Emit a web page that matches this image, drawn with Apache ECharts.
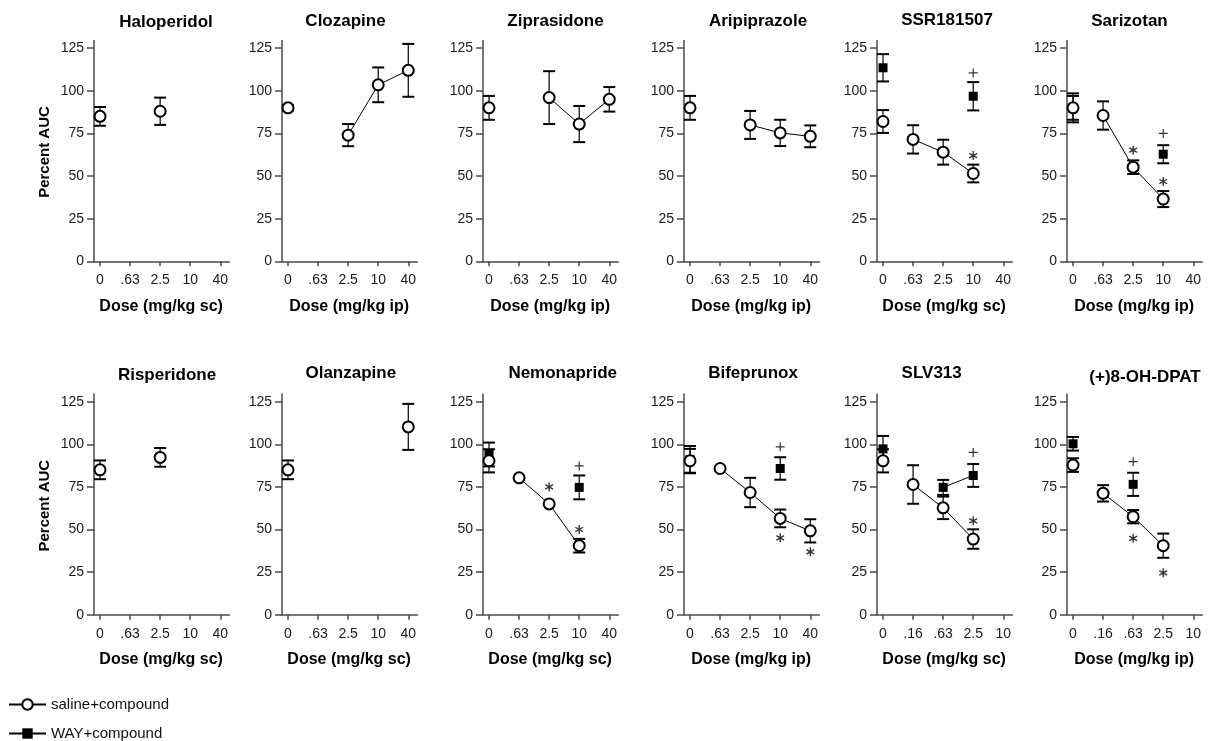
<!DOCTYPE html>
<html><head><meta charset="utf-8">
<script src="https://cdn.jsdelivr.net/npm/echarts@6.0.0/dist/echarts.min.js"></script>
<style>html,body{margin:0;padding:0;background:#fff}#c{width:1211px;height:741px}</style>
</head><body><div id="c"></div>
<script>
// ---------------- DATA ----------------
const dosesA = ['0', '.63', '2.5', '10', '40'];
const dosesB = ['0', '.16', '.63', '2.5', '10'];
const yTickValues = [0, 25, 50, 75, 100, 125];
const panelTitles = ['Haloperidol', 'Clozapine', 'Ziprasidone', 'Aripiprazole', 'SSR181507', 'Sarizotan',
                     'Risperidone', 'Olanzapine', 'Nemonapride', 'Bifeprunox', 'SLV313', '(+)8-OH-DPAT'];
const panelRoutes = ['sc', 'ip', 'ip', 'ip', 'sc', 'ip', 'sc', 'sc', 'sc', 'ip', 'sc', 'ip'];
const seriesNames = ['saline+compound', 'WAY+compound'];
const yAxisTitle = 'Percent AUC';

const haloperidolSaline    = [85, null, 88, null, null];
const haloperidolSalineSem = [5.5, null, 8, null, null];

const clozapineSaline    = [90, null, 74, 103.5, 112];
const clozapineSalineSem = [1.5, null, 6.5, 10.2, 15.5];

const ziprasidoneSaline    = [90, null, 96, 80.5, 95];
const ziprasidoneSalineSem = [7, null, 15.5, 10.6, 7.2];

const aripiprazoleSaline    = [90, null, 80, 75.3, 73.3];
const aripiprazoleSalineSem = [7, null, 8.2, 7.7, 6.4];

const ssrSaline    = [82, 71.5, 64, 51.5, null];
const ssrSalineSem = [6.7, 8.3, 7.3, 5.2, null];
const ssrWay       = [113.5, null, null, 96.8, null];
const ssrWaySem    = [8, null, null, 8.3, null];
const ssrStars     = [[3, 62]];
const ssrPlus      = [[3, 110.5]];

const sarizotanSaline    = [90, 85.5, 55.2, 36.5, null];
const sarizotanSalineSem = [8.5, 8.3, 4, 4.7, null];
const sarizotanWay       = [90, null, null, 62.8, null];
const sarizotanWaySem    = [7, null, null, 5.3, null];
const sarizotanStars     = [[2, 65.2], [3, 46.8]];
const sarizotanPlus      = [[3, 75]];

const risperidoneSaline    = [85, null, 92.3, null, null];
const risperidoneSalineSem = [5.5, null, 5.5, null, null];

const olanzapineSaline    = [85, null, null, null, 110.2];
const olanzapineSalineSem = [5.5, null, null, null, 13.5];

const nemonaprideSaline    = [90.3, 80.3, 65, 40.5, null];
const nemonaprideSalineSem = [6.8, null, null, 4, null];
const nemonaprideWay       = [94, null, null, 74.7, null];
const nemonaprideWaySem    = [7, null, null, 7, null];
const nemonaprideStars     = [[2, 75], [3, 50]];
const nemonapridePlus      = [[3, 87.3]];

const bifeprunoxSaline    = [90.3, 85.8, 71.7, 56.5, 49.2];
const bifeprunoxSalineSem = [7, null, 8.6, 5.2, 6.8];
const bifeprunoxWay       = [91, null, null, 85.8, null];
const bifeprunoxWaySem    = [8, null, null, 6.6, null];
const bifeprunoxStars     = [[3, 45.1], [4, 36.9]];
const bifeprunoxPlus      = [[3, 98.5]];

const slvSaline    = [90.3, 76.4, 62.7, 44.4, null];
const slvSalineSem = [6.8, 11.3, 6.6, 5.7, null];
const slvWay       = [97.3, null, 74.7, 81.7, null];
const slvWaySem    = [7.6, null, 4.4, 6.7, null];
const slvStars     = [[3, 55.1]];
const slvPlus      = [[3, 95.2]];

const dpatSaline    = [87.8, 71.2, 57.5, 40.5, null];
const dpatSalineSem = [4, 4.8, 3.9, 7.1, null];
const dpatWay       = [100.3, null, 76.5, null, null];
const dpatWaySem    = [4, null, 6.8, null, null];
const dpatStars     = [[2, 44.8], [3, 24.6]];
const dpatPlus      = [[2, 89.8]];

// table built from the arrays above
const panels = [
  {doses: dosesA, saline: haloperidolSaline, salineSem: haloperidolSalineSem},
  {doses: dosesA, saline: clozapineSaline, salineSem: clozapineSalineSem},
  {doses: dosesA, saline: ziprasidoneSaline, salineSem: ziprasidoneSalineSem},
  {doses: dosesA, saline: aripiprazoleSaline, salineSem: aripiprazoleSalineSem},
  {doses: dosesA, saline: ssrSaline, salineSem: ssrSalineSem, way: ssrWay, waySem: ssrWaySem, stars: ssrStars, plus: ssrPlus},
  {doses: dosesA, saline: sarizotanSaline, salineSem: sarizotanSalineSem, way: sarizotanWay, waySem: sarizotanWaySem, stars: sarizotanStars, plus: sarizotanPlus},
  {doses: dosesA, saline: risperidoneSaline, salineSem: risperidoneSalineSem},
  {doses: dosesA, saline: olanzapineSaline, salineSem: olanzapineSalineSem},
  {doses: dosesA, saline: nemonaprideSaline, salineSem: nemonaprideSalineSem, way: nemonaprideWay, waySem: nemonaprideWaySem, stars: nemonaprideStars, plus: nemonapridePlus},
  {doses: dosesA, saline: bifeprunoxSaline, salineSem: bifeprunoxSalineSem, way: bifeprunoxWay, waySem: bifeprunoxWaySem, stars: bifeprunoxStars, plus: bifeprunoxPlus},
  {doses: dosesB, saline: slvSaline, salineSem: slvSalineSem, way: slvWay, waySem: slvWaySem, stars: slvStars, plus: slvPlus},
  {doses: dosesB, saline: dpatSaline, salineSem: dpatSalineSem, way: dpatWay, waySem: dpatWaySem, stars: dpatStars, plus: dpatPlus}
];

// ---------------- LAYOUT ----------------
const FONT = '"Liberation Sans", Arial, Helvetica, sans-serif';
const colLeft = [94, 282, 483, 684, 877, 1067];
const plotW = 135.3;
const rowTop = [40.5, 394];
const rowH = [220.8, 220.7];
const titleX = [[166, 345.5, 555.5, 758, 947, 1129.5], [167, 350.8, 562.7, 753, 931.7, 1145]];
const titleY = [[22, 21, 21, 21, 20.5, 21], [375, 373, 373, 373, 373, 377.5]];
const doseLabelY = [306.5, 660];
const yNameY = [152, 505.7];
const AXC = '#4a4a4a';
const STAR = 'path://M0,-1L0,1M-0.866,-0.5L0.866,0.5M-0.866,0.5L0.866,-0.5';
const PLUS = 'path://M0,-1L0,1M-1,0L1,0';

function errRender(params, api) {
  const x = api.value(0), m = api.value(1), e = api.value(2);
  const t = api.coord([x, m + e]), b = api.coord([x, m - e]);
  const hw = 6;
  return {type: 'group', children: [
    {type: 'line', shape: {x1: t[0], y1: t[1], x2: b[0], y2: b[1]}, style: {stroke: '#000', lineWidth: 1.2}},
    {type: 'line', shape: {x1: t[0] - hw, y1: t[1], x2: t[0] + hw, y2: t[1]}, style: {stroke: '#000', lineWidth: 2}},
    {type: 'line', shape: {x1: b[0] - hw, y1: b[1], x2: b[0] + hw, y2: b[1]}, style: {stroke: '#000', lineWidth: 2}}
  ]};
}
function errData(mean, sem) {
  const out = [];
  mean.forEach((v, i) => { if (v != null && sem[i] != null && sem[i] > 0) out.push([i, v, sem[i]]); });
  return out;
}
function restData(mean) {
  return mean.map((v, i) => [i, v]).slice(1);
}

const grids = [], xAxes = [], yAxes = [], series = [], graphics = [];
const circleStyle = {color: '#fff', borderColor: '#000', borderWidth: 2};
const squareStyle = {color: '#000', borderWidth: 0};
const lineSt = {color: '#000', width: 1};

panels.forEach((p, k) => {
  const row = Math.floor(k / 6), col = k % 6;
  const left = colLeft[col];
  grids.push({left: left, top: rowTop[row], width: plotW, height: rowH[row]});
  xAxes.push({
    gridIndex: k, type: 'value', min: -0.2, max: 4.3,
    axisLine: {show: true, onZero: false, lineStyle: {color: AXC, width: 1.5}},
    axisTick: {show: true, customValues: [0, 1, 2, 3, 4], length: 5, lineStyle: {color: AXC, width: 1.5}},
    axisLabel: {customValues: [0, 1, 2, 3, 4], formatter: v => p.doses[Math.round(v)], fontSize: 14, color: '#1a1a1a', margin: 12, fontFamily: FONT},
    splitLine: {show: false}
  });
  yAxes.push({
    gridIndex: k, type: 'value', min: 0, max: 129.5,
    axisLine: {show: true, onZero: false, lineStyle: {color: AXC, width: 1.5}},
    axisTick: {show: true, customValues: yTickValues, length: 7, lineStyle: {color: AXC, width: 1.5}},
    axisLabel: {customValues: yTickValues, fontSize: 14, color: '#1a1a1a', margin: 10, fontFamily: FONT},
    splitLine: {show: false}
  });
  const ax = {xAxisIndex: k, yAxisIndex: k};
  // WAY series (under saline)
  if (p.way) {
    series.push(Object.assign({type: 'custom', name: 'semWay', renderItem: errRender, data: errData(p.way, p.waySem), z: 1, silent: true}, ax));
    series.push(Object.assign({type: 'line', name: seriesNames[1], data: restData(p.way), symbol: 'rect', symbolSize: 9,
      itemStyle: squareStyle, lineStyle: lineSt, connectNulls: false, z: 2, silent: true}, ax));
    series.push(Object.assign({type: 'line', name: seriesNames[1], data: [[0, p.way[0]]], symbol: 'rect', symbolSize: 9,
      itemStyle: squareStyle, lineStyle: lineSt, z: 2, silent: true}, ax));
  }
  series.push(Object.assign({type: 'custom', name: 'semSaline', renderItem: errRender, data: errData(p.saline, p.salineSem), z: 1, silent: true}, ax));
  series.push(Object.assign({type: 'line', name: seriesNames[0], data: restData(p.saline), symbol: 'circle', symbolSize: 11,
    itemStyle: circleStyle, lineStyle: lineSt, connectNulls: false, z: 3, silent: true}, ax));
  series.push(Object.assign({type: 'line', name: seriesNames[0], data: [[0, p.saline[0]]], symbol: 'circle', symbolSize: 11,
    itemStyle: circleStyle, lineStyle: lineSt, z: 3, silent: true}, ax));
  if (p.stars) series.push(Object.assign({type: 'scatter', name: 'star', data: p.stars, symbol: STAR, symbolSize: 9, symbolKeepAspect: true,
    itemStyle: {color: '#000', borderColor: '#000', borderWidth: 1.4}, z: 4, silent: true}, ax));
  if (p.plus) series.push(Object.assign({type: 'scatter', name: 'plus', data: p.plus, symbol: PLUS, symbolSize: 9,
    itemStyle: {color: '#000', borderColor: '#000', borderWidth: 1.2}, z: 4, silent: true}, ax));

  graphics.push({type: 'text', x: titleX[row][col], y: titleY[row][col], silent: true,
    style: {text: panelTitles[k], font: 'bold 17px ' + FONT, fill: '#000', textAlign: 'center', textVerticalAlign: 'middle'}});
  graphics.push({type: 'text', x: left + plotW / 2 - 0.5, y: doseLabelY[row], silent: true,
    style: {text: 'Dose (mg/kg ' + panelRoutes[k] + ')', font: 'bold 16px ' + FONT, fill: '#000', textAlign: 'center', textVerticalAlign: 'middle'}});
});
[0, 1].forEach(r => {
  graphics.push({type: 'text', x: 44.5, y: yNameY[r], rotation: Math.PI / 2, silent: true,
    style: {text: yAxisTitle, font: 'bold 15px ' + FONT, fill: '#000', textAlign: 'center', textVerticalAlign: 'middle'}});
});

const chart = echarts.init(document.getElementById('c'), null, {renderer: 'canvas'});
chart.setOption({
  animation: false,
  backgroundColor: '#fff',
  grid: grids, xAxis: xAxes, yAxis: yAxes, series: series,
  legend: {
    orient: 'vertical', left: 8, top: 697, padding: 0, itemWidth: 37, itemHeight: 13, itemGap: 14,
    textStyle: {fontSize: 15, fontFamily: FONT, color: '#111'},
    data: [{name: seriesNames[0], itemStyle: {borderWidth: 2}}, {name: seriesNames[1], itemStyle: {borderWidth: 0}}],
    selectedMode: false
  },
  graphic: graphics
});
</script></body></html>
